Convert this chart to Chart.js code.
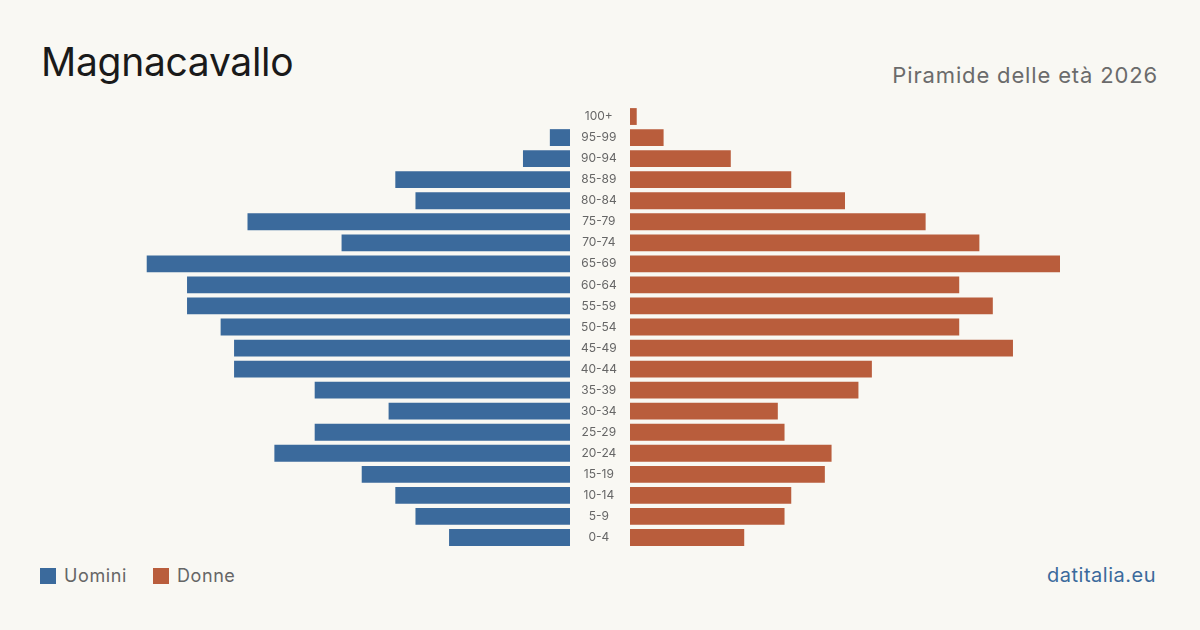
<!DOCTYPE html>
<html><head><meta charset="utf-8">
<script src="https://cdn.jsdelivr.net/npm/chart.js@4/dist/chart.umd.min.js"></script>
<style>
html,body{margin:0;padding:0;background:#f9f8f3;}
body{width:1200px;height:630px;position:relative;overflow:hidden;font-family:Inter,"Noto Sans",sans-serif;}
#title{position:absolute;left:41px;top:42px;font-size:39px;color:#1a1a1a;line-height:1;letter-spacing:-0.3px;}
#sub{position:absolute;right:42px;top:64px;font-size:22px;color:#6b6b6b;line-height:1;letter-spacing:0.85px;}
#legend{position:absolute;left:40px;top:566px;font-size:18px;color:#666;line-height:20px;display:flex;align-items:center;letter-spacing:0.6px;}
.sw{display:inline-block;width:16px;height:16px;margin-right:8px;}
.item{display:flex;align-items:center;margin-right:26px;}
#src{position:absolute;right:44px;top:565px;font-size:20px;color:#3b6a9c;line-height:1;letter-spacing:0.5px;}
#cl{position:absolute;left:140px;top:106px;width:430px;height:442px;}
#cr{position:absolute;left:570px;top:106px;width:490px;height:442px;}
</style></head>
<body>
<div id="title">Magnacavallo</div>
<div id="sub">Piramide delle età 2026</div>
<div id="cl"><canvas id="left"></canvas></div>
<div id="cr"><canvas id="right"></canvas></div>
<div id="legend"><span class="item"><span class="sw" style="background:#3b6a9c"></span>Uomini</span><span class="item"><span class="sw" style="background:#b95d3c"></span>Donne</span></div>
<div id="src">datitalia.eu</div>
<script>
const ageGroups = ["100+","95-99","90-94","85-89","80-84","75-79","70-74","65-69","60-64","55-59","50-54","45-49","40-44","35-39","30-34","25-29","20-24","15-19","10-14","5-9","0-4"];
const men   = [0,3,7,26,23,48,34,63,57,57,52,50,50,38,27,38,44,31,26,23,18];
const women = [1,5,15,24,32,44,52,64,49,54,49,57,36,34,22,23,30,29,24,23,17];
const maxVal = 64;
const blue = "#3b6a9c", orange = "#b95d3c";

const common = {
  indexAxis: 'y',
  responsive: true,
  maintainAspectRatio: false,
  animation: false,
  layout: {padding: 0},
  plugins: {legend: {display: false}, tooltip: {enabled: false}, title: {display: false}},
};

new Chart(document.getElementById('left'), {
  type: 'bar',
  data: {labels: ageGroups, datasets: [{label: 'Uomini', data: men, backgroundColor: blue, borderWidth: 0, categoryPercentage: 1, barPercentage: 0.8}]},
  options: Object.assign({}, common, {
    scales: {
      x: {display: false, reverse: true, min: 0, max: maxVal},
      y: {display: false}
    }
  })
});

new Chart(document.getElementById('right'), {
  type: 'bar',
  data: {labels: ageGroups, datasets: [{label: 'Donne', data: women, backgroundColor: orange, borderWidth: 0, categoryPercentage: 1, barPercentage: 0.8}]},
  options: Object.assign({}, common, {
    scales: {
      x: {display: false, min: 0, max: maxVal},
      y: {
        display: true,
        grid: {display: false, drawTicks: false},
        border: {display: false},
        ticks: {color: '#666', font: {family: 'Inter', size: 12}, crossAlign: 'center', padding: 13},
        afterFit: (s) => { s.width = 60; s.paddingTop = 0; s.paddingBottom = 0; }
      }
    }
  })
});
</script>
</body></html>
